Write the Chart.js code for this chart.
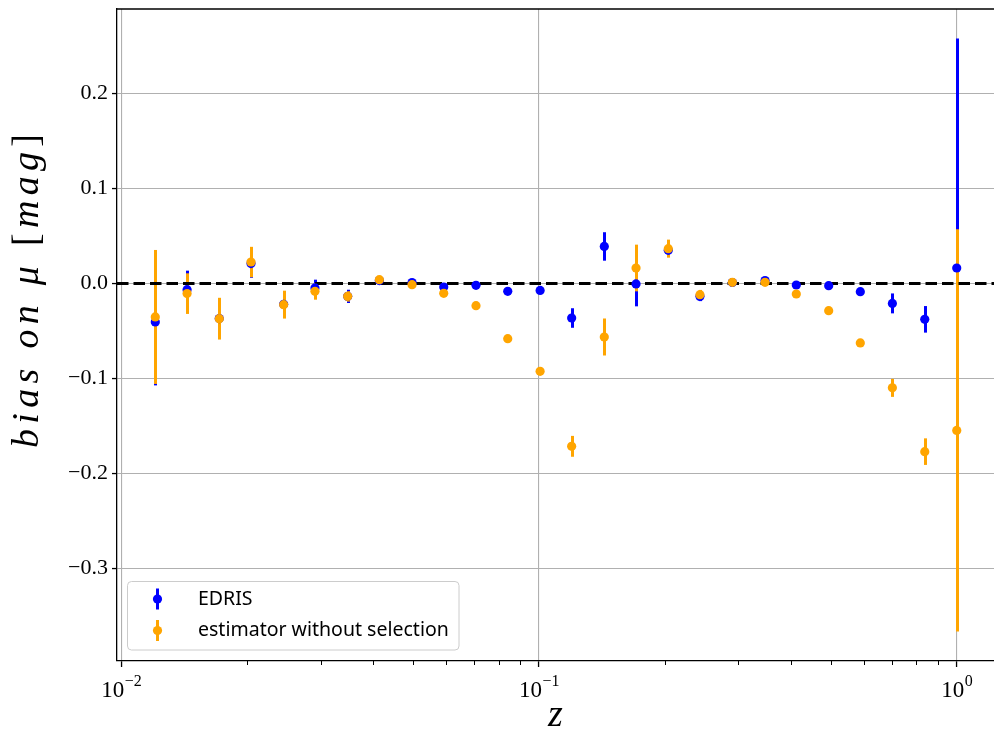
<!DOCTYPE html>
<html>
<head>
<meta charset="utf-8">
<script src="https://cdn.jsdelivr.net/npm/chart.js@4.4.1/dist/chart.umd.min.js"></script>
<style>
  html, body { margin: 0; padding: 0; background: #ffffff; }
  #wrap { width: 994px; height: 733px; }
</style>
</head>
<body>
<div id="wrap"><canvas id="c" width="994" height="733"></canvas></div>
<script>
// Redshift bin centres
const redshift = [0.01206, 0.01437, 0.01716, 0.02044, 0.02447, 0.02908, 0.03483, 0.04147, 0.04966, 0.05914,
                  0.07065, 0.08416, 0.1006, 0.1197, 0.1433, 0.1707, 0.2039, 0.2428, 0.2903, 0.3476,
                  0.4130, 0.4937, 0.5877, 0.7013, 0.8384, 1.0];

// Bias on the distance modulus for EDRIS, with 1-sigma errors
const edrisBias = [-0.0406, -0.0065, -0.0370, 0.0210, -0.0220, -0.0047, -0.0136, 0.0030, 0.0010, -0.0037,
                   -0.0020, -0.0083, -0.0073, -0.0364, 0.0390, -0.0005, 0.0349, -0.0136, 0.0010, 0.0030,
                   -0.0016, -0.0023, -0.0086, -0.0210, -0.0378, 0.0163];
const edrisErr = [0.0668, 0.0200, 0.0200, 0.0150, 0.0130, 0.0087, 0.0070, 0.0020, 0.0020, 0.0020,
                  0.0020, 0.0020, 0.0020, 0.0103, 0.0150, 0.0236, 0.0070, 0.0050, 0.0020, 0.0020,
                  0.0020, 0.0020, 0.0030, 0.0105, 0.0140, 0.2417];

// Bias for the estimator that ignores the selection, with 1-sigma errors
const plainBias = [-0.0353, -0.0107, -0.0371, 0.0226, -0.0223, -0.0083, -0.0136, 0.0040, -0.0013, -0.0104,
                   -0.0234, -0.0582, -0.0926, -0.1716, -0.0564, 0.0163, 0.0367, -0.0118, 0.0012, 0.0012,
                   -0.0111, -0.0287, -0.0627, -0.1100, -0.1772, -0.1548];
const plainErr = [0.0706, 0.0214, 0.0220, 0.0160, 0.0147, 0.0088, 0.0055, 0.0020, 0.0020, 0.0020,
                  0.0020, 0.0030, 0.0030, 0.0110, 0.0195, 0.0246, 0.0095, 0.0050, 0.0020, 0.0020,
                  0.0030, 0.0030, 0.0030, 0.0095, 0.0140, 0.2120];

const seriesNames = ['EDRIS', 'estimator without selection'];
const seriesColors = ['#0000ff', '#ffa500'];

const yTickValues = [-0.3, -0.2, -0.1, 0.0, 0.1, 0.2];
const xTickValues = [0.01, 0.1, 1];
const xTickExponents = ['\u22122', '\u22121', '0'];
const xMinorFactors = [2, 3, 4, 5, 6, 7, 8, 9];

const SERIF = '"Liberation Serif", "DejaVu Serif", serif';
const SANS = '"Noto Sans", "DejaVu Sans", sans-serif';
const MARKER_R = 4.6;
const BAR_W = 3;

function points(xs, ys) { return xs.map((x, i) => ({ x: x, y: ys[i] })); }

function drawErrorBars(ctx, xs, ys, es, color, sx, sy) {
  ctx.save();
  ctx.strokeStyle = color;
  ctx.lineWidth = BAR_W;
  ctx.lineCap = 'butt';
  for (let i = 0; i < xs.length; i++) {
    const px = Math.round(sx.getPixelForValue(xs[i])) + 0.5;
    const top = sy.getPixelForValue(ys[i] + es[i]);
    const bot = sy.getPixelForValue(ys[i] - es[i]);
    ctx.beginPath();
    ctx.moveTo(px, top);
    ctx.lineTo(px, bot);
    ctx.stroke();
  }
  ctx.restore();
}

function noPadding(s) {
  s.paddingLeft = 0; s.paddingRight = 0; s.paddingTop = 0; s.paddingBottom = 0;
}

const decor = {
  id: 'decor',
  beforeDatasetsDraw(chart) {
    const { ctx, chartArea, scales } = chart;
    const sx = scales.x, sy = scales.y;
    ctx.save();
    ctx.beginPath();
    ctx.rect(chartArea.left, chartArea.top, chartArea.right - chartArea.left, chartArea.bottom - chartArea.top);
    ctx.clip();
    drawErrorBars(ctx, redshift, edrisBias, edrisErr, seriesColors[0], sx, sy);
    drawErrorBars(ctx, redshift, plainBias, plainErr, seriesColors[1], sx, sy);
    // zero-bias reference line
    const y0 = Math.round(sy.getPixelForValue(0)) + 0.5;
    ctx.strokeStyle = '#000000';
    ctx.lineWidth = 3;
    ctx.setLineDash([11.5, 5]);
    ctx.beginPath();
    ctx.moveTo(chartArea.left, y0);
    ctx.lineTo(chartArea.right, y0);
    ctx.stroke();
    ctx.restore();
  },
  afterDraw(chart) {
    const { ctx, chartArea, scales } = chart;
    const sx = scales.x;
    ctx.save();
    // top spine
    ctx.strokeStyle = '#000000';
    ctx.lineWidth = 1.3;
    ctx.beginPath();
    ctx.moveTo(chartArea.left - 0.65, chartArea.top);
    ctx.lineTo(chartArea.right, chartArea.top);
    ctx.stroke();

    // minor ticks on the log axis
    ctx.lineWidth = 1;
    for (const dec of xTickValues) {
      for (const f of xMinorFactors) {
        const v = dec * f;
        if (v <= sx.min || v >= sx.max) continue;
        const px = Math.round(sx.getPixelForValue(v)) + 0.5;
        ctx.beginPath();
        ctx.moveTo(px, chartArea.bottom);
        ctx.lineTo(px, chartArea.bottom + 4);
        ctx.stroke();
      }
    }

    // x tick labels: 10 with a raised exponent
    ctx.fillStyle = '#000000';
    ctx.textBaseline = 'alphabetic';
    xTickValues.forEach((v, i) => {
      const px = sx.getPixelForValue(v);
      ctx.font = '23px ' + SERIF;
      const wb = ctx.measureText('10').width;
      ctx.font = '16px ' + SERIF;
      const we = ctx.measureText(xTickExponents[i]).width;
      const x0 = px - (wb + we) / 2;
      ctx.textAlign = 'left';
      ctx.font = '23px ' + SERIF;
      ctx.fillText('10', x0, 697);
      ctx.font = '16px ' + SERIF;
      ctx.fillText(xTickExponents[i], x0 + wb + 0.5, 686);
    });

    // x axis title
    ctx.font = 'italic 38px ' + SERIF;
    ctx.textAlign = 'center';
    ctx.fillText('z', (chartArea.left + chartArea.right) / 2, 726);

    // y axis title: italic symbols, upright brackets
    const parts = [
      ['bias on \u03bc ', 'italic 38px ' + SERIF],
      ['[', '38px ' + SERIF],
      ['mag', 'italic 38px ' + SERIF],
      [']', '38px ' + SERIF]
    ];
    const nChars = parts.reduce((n, p) => n + p[0].length, 0);
    let natural = 0;
    parts.forEach(p => { ctx.font = p[1]; natural += ctx.measureText(p[0]).width; });
    const spacing = Math.max(0, (314 - natural) / (nChars - 1));
    ctx.save();
    ctx.translate(38, 291);
    ctx.rotate(-Math.PI / 2);
    ctx.textAlign = 'left';
    let xx = -157;
    parts.forEach(p => {
      ctx.font = p[1];
      for (const ch of p[0]) {
        ctx.fillText(ch, xx, 0);
        xx += ctx.measureText(ch).width + spacing;
      }
    });
    ctx.restore();

    // legend
    const lx = 127.5, ly = 581.5, lw = 331.5, lh = 68.5, r = 4;
    ctx.beginPath();
    ctx.moveTo(lx + r, ly);
    ctx.arcTo(lx + lw, ly, lx + lw, ly + lh, r);
    ctx.arcTo(lx + lw, ly + lh, lx, ly + lh, r);
    ctx.arcTo(lx, ly + lh, lx, ly, r);
    ctx.arcTo(lx, ly, lx + lw, ly, r);
    ctx.closePath();
    ctx.fillStyle = 'rgba(255,255,255,0.8)';
    ctx.fill();
    ctx.strokeStyle = '#cccccc';
    ctx.lineWidth = 1;
    ctx.stroke();

    const rowsY = [599, 630.5];
    ctx.font = '17px ' + SANS;
    const natW = ctx.measureText(seriesNames[1]).width;
    const fs = 17 * 251 / natW;
    seriesNames.forEach((name, i) => {
      const cy = rowsY[i];
      ctx.strokeStyle = seriesColors[i];
      ctx.lineWidth = BAR_W;
      ctx.beginPath();
      ctx.moveTo(157.5, cy - 10.5);
      ctx.lineTo(157.5, cy + 10.5);
      ctx.stroke();
      ctx.fillStyle = seriesColors[i];
      ctx.beginPath();
      ctx.arc(157.5, cy, MARKER_R, 0, Math.PI * 2);
      ctx.fill();
      ctx.fillStyle = '#000000';
      ctx.font = fs.toFixed(2) + 'px ' + SANS;
      ctx.textAlign = 'left';
      ctx.textBaseline = 'middle';
      ctx.fillText(name, 198, cy);
    });
    ctx.restore();
  }
};

new Chart(document.getElementById('c'), {
  type: 'scatter',
  data: {
    datasets: [
      {
        label: seriesNames[0],
        data: points(redshift, edrisBias),
        backgroundColor: seriesColors[0],
        borderColor: seriesColors[0],
        borderWidth: 0,
        pointRadius: MARKER_R,
        order: 1
      },
      {
        label: seriesNames[1],
        data: points(redshift, plainBias),
        backgroundColor: seriesColors[1],
        borderColor: seriesColors[1],
        borderWidth: 0,
        pointRadius: MARKER_R,
        order: 0
      }
    ]
  },
  options: {
    responsive: false,
    animation: false,
    devicePixelRatio: 1,
    layout: { autoPadding: false, padding: { top: 9, right: 0, left: 0, bottom: 0 } },
    plugins: { legend: { display: false }, tooltip: { enabled: false } },
    scales: {
      x: {
        type: 'logarithmic',
        min: 0.009765,
        max: 1.228,
        afterBuildTicks: s => { s.ticks = xTickValues.map(v => ({ value: v, major: true })); },
        afterFit: s => { s.height = 72; noPadding(s); },
        ticks: { display: false },
        grid: { color: '#b0b0b0', lineWidth: 1.1, tickColor: '#000000', tickLength: 6, tickWidth: 1.3 },
        border: { color: '#000000', width: 1.3 }
      },
      y: {
        type: 'linear',
        min: -0.3978,
        max: 0.2892,
        afterBuildTicks: s => { s.ticks = yTickValues.map(v => ({ value: v })); },
        afterFit: s => { s.width = 117; noPadding(s); },
        ticks: {
          font: { family: SERIF, size: 22 },
          color: '#000000',
          padding: 4,
          callback: v => (v < -1e-9 ? '\u2212' : '') + Math.abs(v).toFixed(1)
        },
        grid: { color: '#b0b0b0', lineWidth: 1.1, tickColor: '#000000', tickLength: 5, tickWidth: 1.3 },
        border: { color: '#000000', width: 1.3 }
      }
    }
  },
  plugins: [decor]
});
</script>
</body>
</html>
